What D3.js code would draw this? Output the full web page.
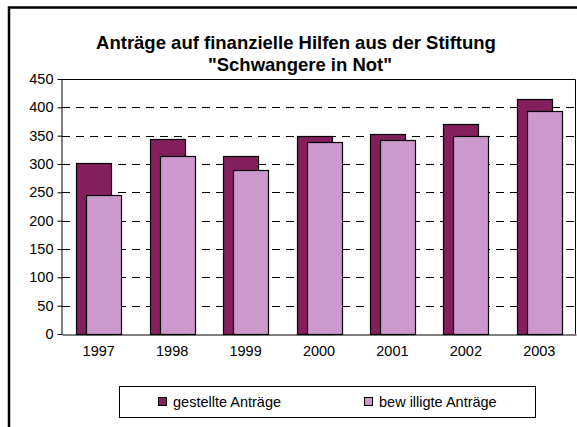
<!DOCTYPE html>
<html lang="de">
<head>
  <meta charset="UTF-8">
  <title>Anträge Schwangere in Not</title>
  <style>
    body { margin: 0; background: #fff; }
    svg text { font-family: "Liberation Sans", Arial, sans-serif; fill: #000; }
  </style>
</head>
<body>
<div id="chart"></div>
<script src="https://d3js.org/d3.v7.min.js"></script>
<script>
  // Data
  const years = ['1997', '1998', '1999', '2000', '2001', '2002', '2003'];
  const gestellt = [302, 345, 315, 350, 353, 371, 414];
  const bewilligt = [246, 315, 289, 338, 342, 350, 393];
  const yTicks = [0, 50, 100, 150, 200, 250, 300, 350, 400, 450];
  const seriesNames = ['gestellte Anträge', 'bew illigte Anträge'];
  const colors = ['#841f5e', '#cc99cc'];

  const width = 577, height = 427;
  const plot = { left: 62, top: 79, right: 576, bottom: 334 };

  const svg = d3.select('#chart').append('svg')
    .attr('width', width)
    .attr('height', height);

  // outer chart frame (cut off at right and bottom in the original)
  svg.append('rect')
    .attr('x', 9).attr('y', 7.5)
    .attr('width', 600).attr('height', 500)
    .attr('fill', 'none').attr('stroke', '#000').attr('stroke-width', 2.5);

  // title
  const title = svg.append('text')
    .attr('text-anchor', 'middle')
    .attr('font-weight', 'bold')
    .attr('font-size', 18.5);
  title.append('tspan').attr('x', 296).attr('y', 49).text('Anträge auf finanzielle Hilfen aus der Stiftung');
  title.append('tspan').attr('x', 300).attr('y', 71).text('"Schwangere in Not"');

  const x = d3.scaleBand()
    .domain(years)
    .range([plot.left, plot.right]);

  const y = d3.scaleLinear()
    .domain([0, 450])
    .range([plot.bottom, plot.top]);

  // dashed gridlines
  svg.append('g')
    .selectAll('line')
    .data(yTicks.filter(d => d > 0 && d < 450))
    .enter().append('line')
    .attr('x1', plot.left).attr('x2', plot.right)
    .attr('y1', d => Math.round(y(d)) + 0.5)
    .attr('y2', d => Math.round(y(d)) + 0.5)
    .attr('stroke', '#000')
    .attr('stroke-dasharray', '8,6');

  // plot frame top/right
  svg.append('path')
    .attr('d', `M${plot.left},${plot.top + 0.5}H${plot.right - 0.5}V${plot.bottom}`)
    .attr('fill', 'none').attr('stroke', '#000');

  // bars: dark behind, light in front shifted right
  const barW = 35, shift = 10;
  const bars = svg.append('g');
  [gestellt, bewilligt].forEach((vals, s) => {
    bars.append('g').selectAll('rect')
      .data(vals)
      .enter().append('rect')
      .attr('x', (d, i) => Math.round(x(years[i]) + x.bandwidth() / 2 - (barW + shift) / 2 + s * shift) + 0.5)
      .attr('y', d => Math.round(y(d)) + 0.5)
      .attr('width', barW)
      .attr('height', d => Math.round(y(0)) - Math.round(y(d)))
      .attr('fill', colors[s])
      .attr('stroke', '#000')
      .attr('stroke-width', 1.2);
  });

  // y axis
  const yAxis = svg.append('g')
    .attr('transform', `translate(${plot.left + 0.5},0)`)
    .call(d3.axisLeft(y).tickValues(yTicks).tickSize(5).tickPadding(4));
  yAxis.select('.domain').attr('d', `M-0.5,${plot.top}V${plot.bottom}`).attr('stroke', '#000');
  yAxis.selectAll('.tick line').attr('stroke', '#000');
  yAxis.selectAll('.tick text').attr('font-size', 14.5).attr('font-family', null);

  // x axis
  const xAxis = svg.append('g')
    .attr('transform', `translate(0,${plot.bottom + 0.5})`)
    .call(d3.axisBottom(x).tickSize(0).tickPadding(11));
  xAxis.select('.domain').attr('stroke', '#000');
  xAxis.selectAll('.tick text').attr('font-size', 14.5).attr('font-family', null);

  // legend
  const legend = svg.append('g');
  legend.append('rect')
    .attr('x', 119.5).attr('y', 386.5)
    .attr('width', 416).attr('height', 31)
    .attr('fill', '#fff').attr('stroke', '#000');
  const legX = [158, 364];
  const items = legend.selectAll('.item')
    .data(seriesNames)
    .enter().append('g');
  items.append('rect')
    .attr('x', (d, i) => legX[i] + 0.5).attr('y', 397.5)
    .attr('width', 8).attr('height', 8)
    .attr('fill', (d, i) => colors[i])
    .attr('stroke', '#000');
  items.append('text')
    .attr('x', (d, i) => legX[i] + 15)
    .attr('y', 407)
    .attr('font-size', 14.5)
    .text(d => d);
</script>
</body>
</html>
